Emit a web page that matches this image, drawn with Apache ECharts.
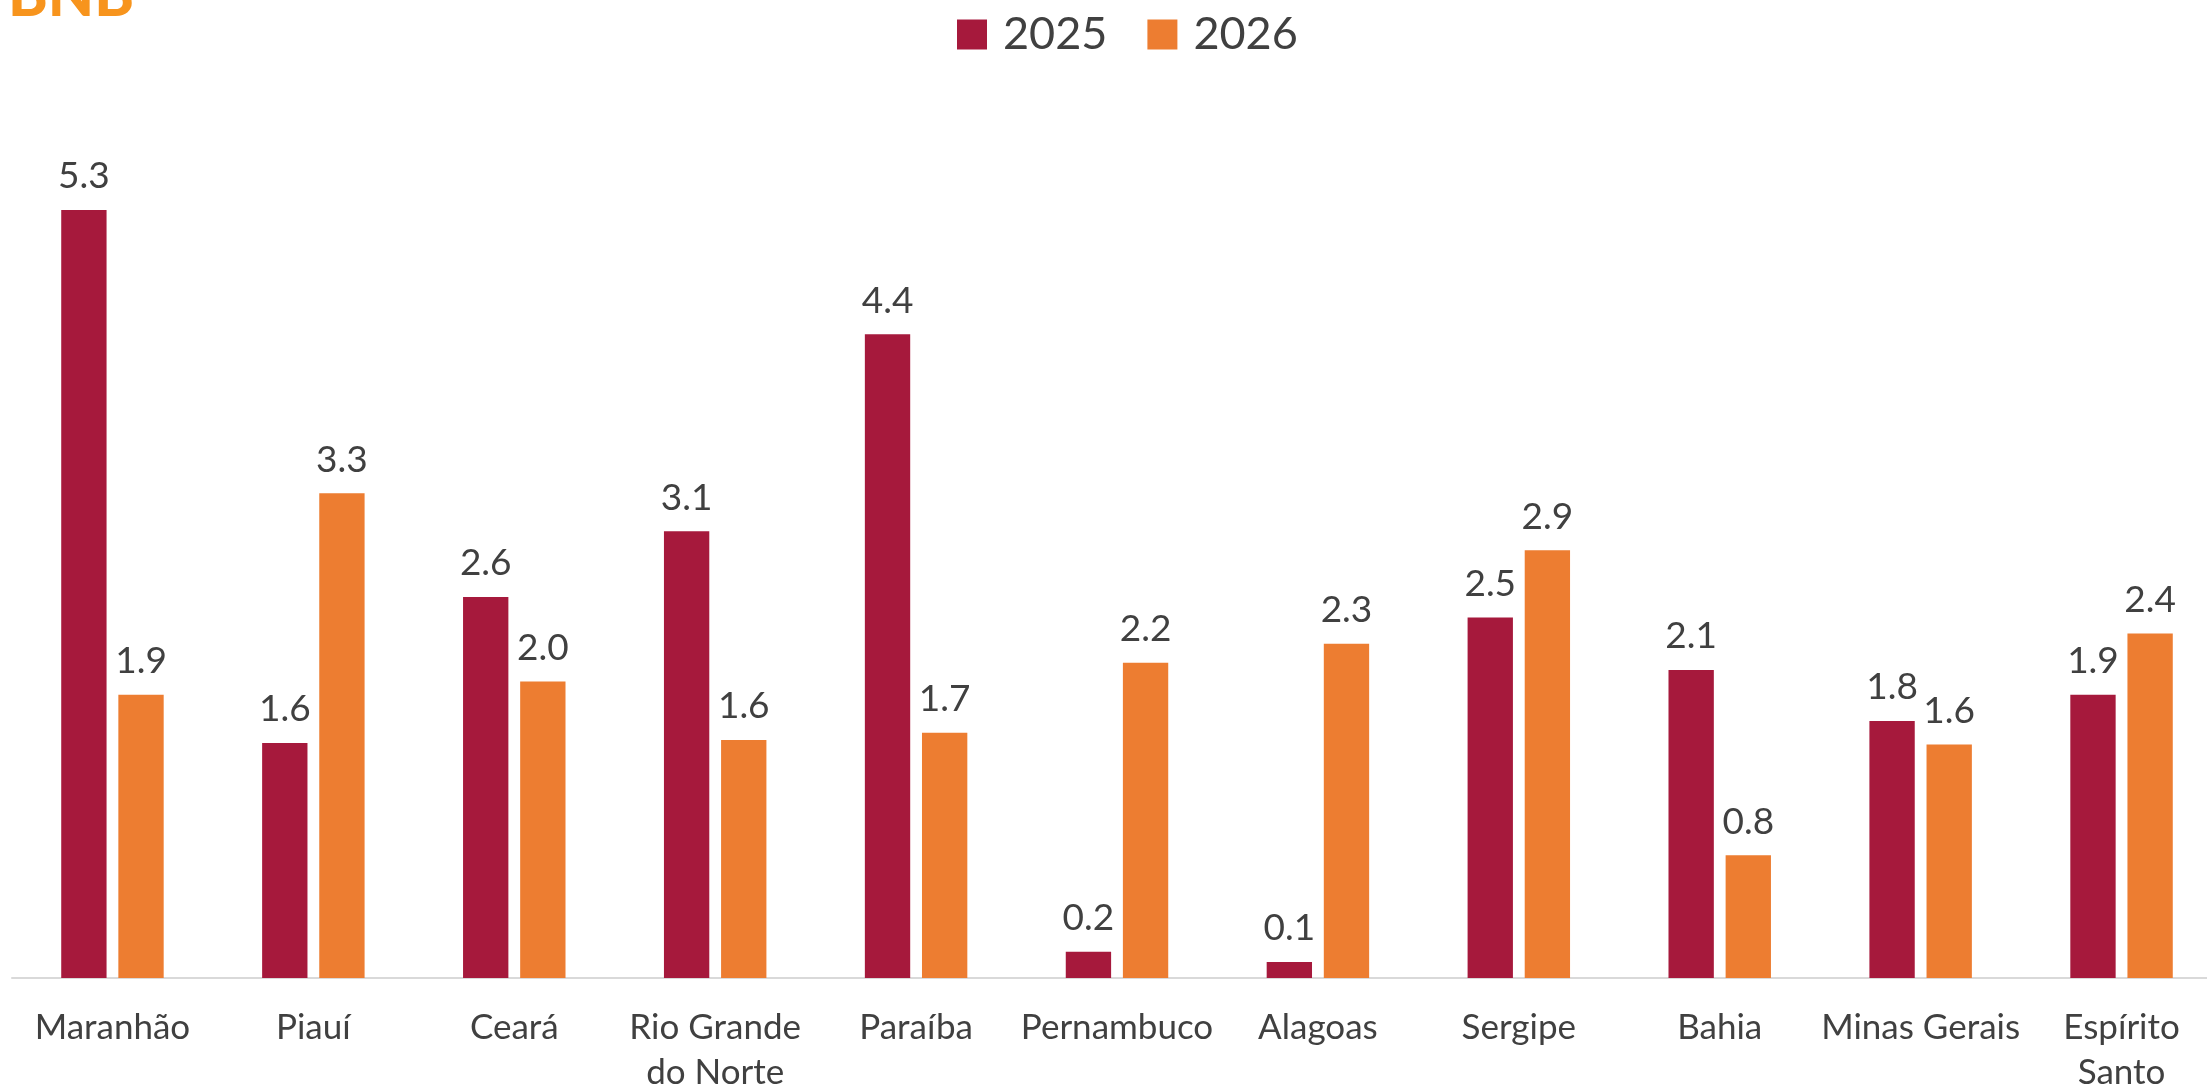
<!DOCTYPE html>
<html>
<head>
<meta charset="utf-8">
<title>Estados - 2025 x 2026</title>
<script src="https://cdn.jsdelivr.net/npm/echarts@6/dist/echarts.min.js"></script>
<style>
  html, body { margin: 0; padding: 0; background: #fff; }
  #main { width: 2207px; height: 1088px; }
</style>
</head>
<body>
<div id="main"></div>
<script>
// dados (alturas estimadas das barras; rótulos com 1 casa)
const categorias = ['Maranhão', 'Piauí', 'Ceará', 'Rio Grande\ndo Norte', 'Paraíba', 'Pernambuco',
  'Alagoas', 'Sergipe', 'Bahia', 'Minas Gerais', 'Espírito\nSanto'];
const nomesSeries = ['2025', '2026'];
const valores2025 = [5.26, 1.61, 2.61, 3.06, 4.41, 0.18, 0.11, 2.47, 2.11, 1.76, 1.94];
const valores2026 = [1.94, 3.32, 2.03, 1.63, 1.68, 2.16, 2.29, 2.93, 0.84, 1.60, 2.36];

const corTexto = '#404040';
const fonte = 'Lato, "Open Sans", sans-serif';

var myChart = echarts.init(document.getElementById('main'));

const rotulo = {
  show: true,
  position: 'top',
  distance: 15,
  color: corTexto,
  fontFamily: fonte,
  fontSize: 37,
  formatter: p => p.value.toFixed(1)
};

var option = {
  animation: false,
  backgroundColor: '#fff',
  graphic: [{
    type: 'text',
    left: 8,
    top: -33,
    style: {
      text: 'BNB',
      fill: '#F7941D',
      font: '900 60px Lato, sans-serif'
    }
  }],
  legend: {
    data: nomesSeries,
    left: 957,
    top: 12,
    padding: 0,
    icon: 'rect',
    itemWidth: 30,
    itemHeight: 30,
    itemGap: 40,
    textStyle: {
      color: corTexto,
      fontFamily: fonte,
      fontSize: 45,
      padding: [0, 0, 0, 11]
    }
  },
  grid: {
    left: 12,
    width: 2210,
    top: 102,
    bottom: 110,
    containLabel: false,
    outerBoundsMode: 'none'
  },
  xAxis: {
    type: 'category',
    data: categorias,
    axisLine: { lineStyle: { color: '#D9D9D9', width: 2 } },
    axisTick: { show: false },
    axisLabel: {
      color: corTexto,
      fontFamily: fonte,
      fontSize: 35,
      lineHeight: 45,
      margin: 27,
      interval: 0
    }
  },
  yAxis: {
    type: 'value',
    min: 0,
    max: 6,
    show: false,
    splitLine: { show: false }
  },
  series: [
    {
      name: nomesSeries[0],
      type: 'bar',
      data: valores2025,
      itemStyle: { color: '#A6193C' },
      barGap: '26%',
      barCategoryGap: '49%',
      label: rotulo
    },
    {
      name: nomesSeries[1],
      type: 'bar',
      data: valores2026,
      itemStyle: { color: '#ED7D31' },
      barGap: '26%',
      barCategoryGap: '49%',
      label: rotulo
    }
  ]
};

myChart.setOption(option);
</script>
</body>
</html>
